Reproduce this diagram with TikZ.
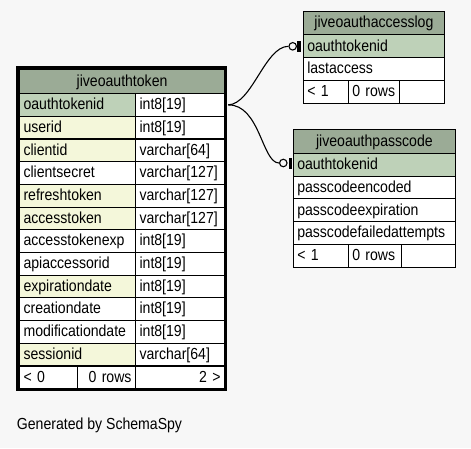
\documentclass[tikz,border=0pt]{standalone}
\usepackage{fontspec}
\setmainfont{Liberation Sans}[FakeStretch=0.88]
\definecolor{pagegrey}{HTML}{F7F7F7}
\definecolor{hdrgreen}{HTML}{9BAB96}
\definecolor{pkgreen}{HTML}{BED1B8}
\definecolor{idxyellow}{HTML}{F4F7DA}
\begin{document}
\begin{tikzpicture}[x=1pt,y=-1pt,
  cell/.style={draw=black,line width=1.1pt,fill=white,anchor=north west,
    inner xsep=4pt,inner ysep=0pt,text width=#1,align=left,
    minimum height=22.7pt,text height=12pt,text depth=2.5pt,
    font=\fontsize{16}{18}\selectfont},
  head/.style={cell=#1,fill=hdrgreen,align=center,minimum height=23.8pt},
  rcell/.style={cell=#1,align=right},
  link/.style={line width=1.1pt},
  odot/.style={circle,draw=black,line width=1.1pt,fill=pagegrey,inner sep=0pt,minimum size=7.5pt}]
\fill[pagegrey] (0,0) rectangle (471,448);
\useasboundingbox (0,0) rectangle (471,448);

% jiveoauthtoken
\node[head=197pt] (tk-h) at (19,69) {jiveoauthtoken};
\foreach \nm/\ty/\col [count=\i from 0] in {oauthtokenid/int8[19]/pkgreen,
    userid/int8[19]/idxyellow, clientid/varchar[64]/idxyellow,
    clientsecret/varchar[127]/white, refreshtoken/varchar[127]/idxyellow,
    accesstoken/varchar[127]/idxyellow, accesstokenexp/int8[19]/white,
    apiaccessorid/int8[19]/white, expirationdate/int8[19]/idxyellow,
    creationdate/int8[19]/white, modificationdate/int8[19]/white,
    sessionid/varchar[64]/idxyellow}
  {\node[cell=108pt,fill=\col] (tk-n\i) at (19,{93+22.7*\i}) {\nm};
   \node[cell=81pt] (tk-t\i) at (135,{93+22.7*\i}) {\ty};}
\node[cell=50pt] (tk-f1) at (19,365.4) {< 0};
\node[rcell=50pt] (tk-f2) at (77,365.4) {0 rows};
\node[rcell=81pt] (tk-f3) at (135,365.4) {2 >};
\draw[line width=3pt] (17.5,67.5) rectangle (225.5,389.5);

% jiveoauthaccesslog
\node[head=133.3pt] (log-h) at (302.7,10.7) {jiveoauthaccesslog};
\node[cell=133.3pt,fill=pkgreen,minimum height=22.8pt] (log-c1) at (302.7,34.3) {oauthtokenid};
\node[cell=133.3pt,minimum height=22.8pt] (log-c2) at (302.7,57.1) {lastaccess};
\node[cell=37pt,minimum height=22.8pt] (log-f1) at (302.7,79.9) {< 1};
\node[cell=43.6pt,minimum height=22.8pt] (log-f2) at (347.7,79.9) {0 rows};
\node[cell=36.7pt,minimum height=22.8pt] (log-f3) at (399.3,79.9) {};

% jiveoauthpasscode
\node[head=154.3pt] (pc-h) at (292.7,129) {jiveoauthpasscode};
\foreach \nm/\col [count=\i] in {oauthtokenid/pkgreen, passcodeencoded/white,
    passcodeexpiration/white, passcodefailedattempts/white}
  {\node[cell=154.3pt,fill=\col,minimum height=22.8pt] (pc-c\i) at (292.7,{152.7+22.8*(\i-1)}) {\nm};}
\node[cell=47pt,minimum height=22.8pt] (pc-f1) at (292.7,243.9) {< 1};
\node[cell=45.3pt,minimum height=22.8pt] (pc-f2) at (347.7,243.9) {0 rows};
\node[cell=46pt,minimum height=22.8pt] (pc-f3) at (401,243.9) {};

% links
\coordinate (tk-out) at ([xshift=3pt]tk-t0.east);
\node[odot] (log-o) at (292.7,46.3) {};
\fill (297.3,40.5) rectangle (301.2,51.5);
\draw[link] (tk-out) .. controls (252,104.3) and (265,46.3) .. (log-o.west);
\node[odot] (pc-o) at (283.3,163) {};
\fill (288.8,157.5) rectangle (292.2,168.5);
\draw[link] (tk-out) .. controls (260,104.3) and (262,163) .. (pc-o.west);

\node[anchor=base west,inner sep=0pt,font=\fontsize{16}{18}\selectfont] (gen) at (16.7,429.3) {Generated by SchemaSpy};
\end{tikzpicture}
\end{document}
